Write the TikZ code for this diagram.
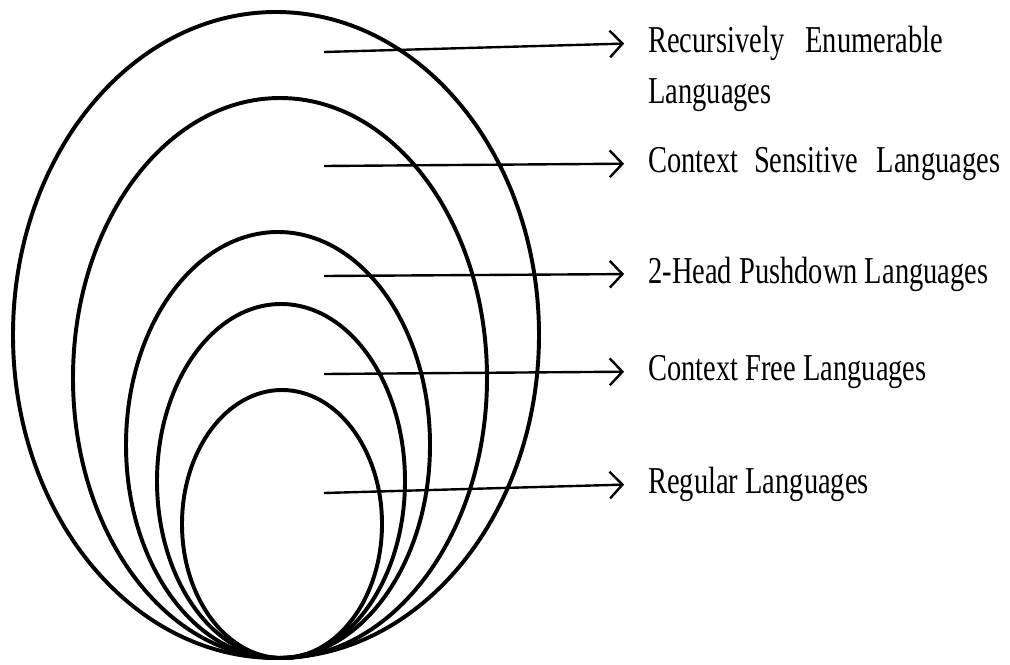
\documentclass[tikz,border=0pt]{standalone}
\usepackage{fontspec}
\setmainfont{Liberation Serif}[FakeStretch=0.75]
\usetikzlibrary{arrows.meta}

\begin{document}
\begin{tikzpicture}[x=0.025cm,y=-0.025cm,
  ring/.style={line width=2.8pt},
  lnk/.style={line width=1.7pt,-{Straight Barb[length=9pt,width=19pt]},shorten >=17pt},
  lbl/.style={anchor=base west,inner sep=0pt,font=\fontsize{27}{32}\selectfont}]
\fill[white] (0,0) rectangle (1010,664);
\useasboundingbox (0,0) rectangle (1010,664);
% nested language classes
\foreach \cx/\cy/\rx/\ry in {276/335/263/323, 280/378/207/280, 278/445/152/213,
                             281/481/124/177, 282/524/100/134}
  \draw[ring] (\cx,\cy) ellipse ({\rx} and {\ry});
% labels
\node[lbl] (re) at (648,52) {Recursively\hspace{15pt}Enumerable};
\node[lbl] (reb) at (648,103) {Languages};
\node[lbl] (cs) at (648,172) {Context\hspace{6pt} Sensitive\hspace{8pt} Languages};
\node[lbl] (hp) at (648,283) {2-Head Pushdown Languages};
\node[lbl] (cf) at (648,380) {Context Free Languages};
\node[lbl] (rg) at (648,493) {Regular Languages};
% arrows
\foreach \name/\y in {re/52, cs/166, hp/276, cf/374, rg/493}{
  \coordinate (s-\name) at (324,\y);
  \draw[lnk] (s-\name) -- (\name.west);
}
\end{tikzpicture}
\end{document}
